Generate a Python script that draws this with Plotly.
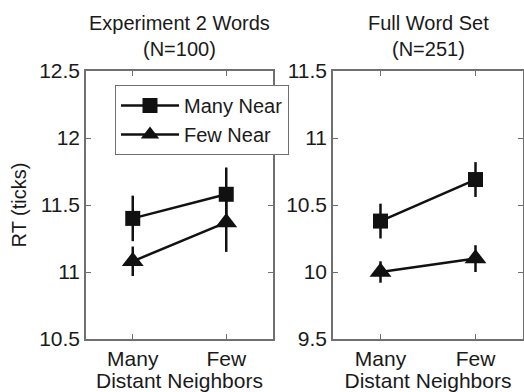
import plotly.graph_objects as go

categories = ["Many", "Few"]
x_pos = [1, 2]
series_names = ["Many Near", "Few Near"]

# Panel 1: Experiment 2 Words (N=100)
exp2_many_near = [11.40, 11.58]
exp2_many_near_err = [0.17, 0.20]
exp2_few_near = [11.08, 11.37]
exp2_few_near_err = [0.11, 0.22]

# Panel 2: Full Word Set (N=251)
full_many_near = [10.38, 10.69]
full_many_near_err = [0.13, 0.13]
full_few_near = [10.00, 10.10]
full_few_near_err = [0.08, 0.10]

panel_titles = ["Experiment 2 Words<br>(N=100)", "Full Word Set<br>(N=251)"]
y_ticks_left = [10.5, 11, 11.5, 12, 12.5]
y_ticks_right = [9.5, 10, 10.5, 11, 11.5]

W, H = 524, 392
FONT = "Liberation Sans, Arial, sans-serif"
FS = 20
FT = 21
TXT = "#1a1a1a"
AX = "#707070"

fig = go.Figure()

def add(xaxis, yaxis, y, err, symbol, size, name, show):
    fig.add_trace(go.Scatter(
        x=x_pos, y=y, xaxis=xaxis, yaxis=yaxis, name=name, showlegend=show,
        mode="lines+markers",
        line=dict(color="#111111", width=2.5),
        marker=dict(symbol=symbol, size=size, color="#111111"),
        error_y=dict(type="data", array=err, visible=True, color="#111111",
                     thickness=2.5, width=0),
    ))

add("x", "y", exp2_many_near, exp2_many_near_err, "square", 15, series_names[0], True)
add("x", "y", exp2_few_near, exp2_few_near_err, "triangle-up", 19, series_names[1], True)
add("x2", "y2", full_many_near, full_many_near_err, "square", 15, series_names[0], False)
add("x2", "y2", full_few_near, full_few_near_err, "triangle-up", 19, series_names[1], False)

left_dom = [86 / W, 273 / W]
right_dom = [333 / W, 523 / W]
y_dom = [1 - 339 / H, 1 - 71 / H]

common_x = dict(range=[0.5, 2.5], tickvals=x_pos, ticktext=categories,
                showline=True, linecolor=AX, linewidth=1.5, mirror="ticks",
                ticks="inside", ticklen=5, tickcolor=AX, tickwidth=1,
                showgrid=False, zeroline=False, automargin=False,
                tickfont=dict(size=FT, color=TXT, family=FONT),
                title=dict(text="Distant Neighbors", standoff=4,
                           font=dict(size=FT, color=TXT, family=FONT)))
common_y = dict(showline=True, linecolor=AX, linewidth=1.5, mirror="ticks",
                ticks="inside", ticklen=5, tickcolor=AX, tickwidth=1,
                showgrid=False, zeroline=False, automargin=False,
                tickfont=dict(size=FT, color=TXT, family=FONT))

fig.update_layout(
    width=W, height=H,
    margin=dict(l=0, r=0, t=0, b=0, autoexpand=False),
    paper_bgcolor="white", plot_bgcolor="white",
    font=dict(family=FONT, size=FS, color=TXT),
    xaxis=dict(domain=left_dom, anchor="y", **common_x),
    yaxis=dict(domain=y_dom, anchor="x", range=[10.5, 12.5], tickvals=y_ticks_left,
               title=dict(text="RT (ticks)", standoff=7,
                          font=dict(size=FS, color=TXT, family=FONT)),
               **common_y),
    xaxis2=dict(domain=right_dom, anchor="y2", **common_x),
    yaxis2=dict(domain=y_dom, anchor="x2", range=[9.5, 11.5], tickvals=y_ticks_right,
                **common_y),
    legend=dict(x=115 / W, y=1 - 85 / H, xanchor="left", yanchor="top",
                bgcolor="white", bordercolor=AX, borderwidth=1,
                font=dict(size=FS, color=TXT, family=FONT),
                tracegroupgap=0, itemwidth=58),
    showlegend=True,
)

for i, t in enumerate(panel_titles):
    dom = left_dom if i == 0 else right_dom
    fig.add_annotation(text=t, x=(dom[0] + dom[1]) / 2, y=1 - 35.5 / H,
                       xref="paper", yref="paper", xanchor="center", yanchor="middle",
                       showarrow=False, font=dict(size=FS, color=TXT, family=FONT))

fig.write_html("out.html", config={"displayModeBar": False},
               post_script="document.body.style.margin='0';document.body.style.padding='0';")
